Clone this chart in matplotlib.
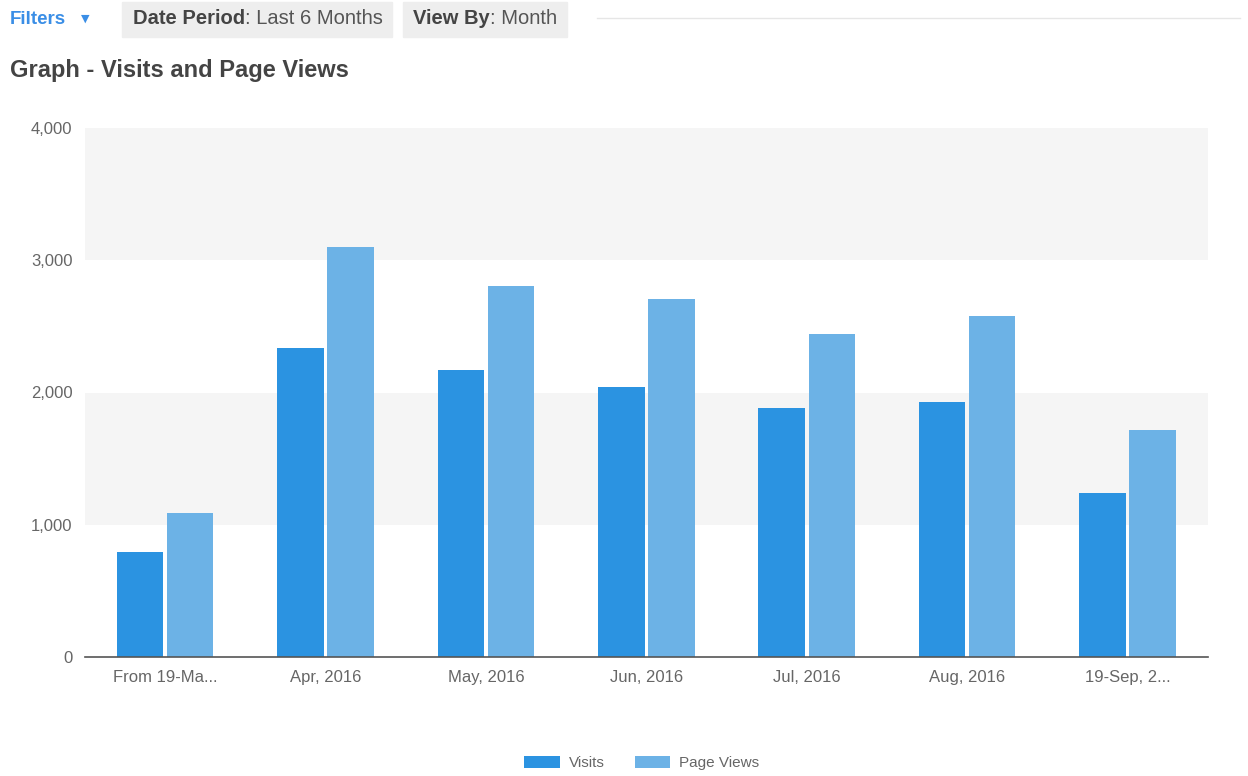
import numpy as np
from matplotlib import pyplot as plt
from matplotlib.patches import Rectangle

categories = ["From 19-Ma...", "Apr, 2016", "May, 2016", "Jun, 2016",
              "Jul, 2016", "Aug, 2016", "19-Sep, 2..."]
visits = [795, 2335, 2170, 2040, 1885, 1930, 1240]
page_views = [1090, 3100, 2805, 2705, 2440, 2580, 1715]
y_ticks = [0, 1000, 2000, 3000, 4000]

VISITS_C = "#2b93e1"
PV_C = "#6cb2e6"
TXT = "#666666"

plt.rcParams["font.family"] = ["Liberation Sans", "DejaVu Sans"]

W, H = 1248, 776
fig = plt.figure(figsize=(W / 100, H / 100), dpi=100)


def px(x, y):
    return x / W, 1 - y / H


# header row
fig.text(*px(10, 19), "Filters", color="#3a8ee6", fontsize=13.5,
         fontweight="bold", va="center")
fig.text(*px(81, 19), "\u25bc", color="#3a8ee6", fontsize=8,
         va="center", family="DejaVu Sans")
for x0, x1 in [(122, 392), (403, 567)]:
    fig.patches.append(Rectangle(px(x0, 37), (x1 - x0) / W, 35 / H,
                                 transform=fig.transFigure, color="#eeeeee",
                                 zorder=0))
fig.add_artist(plt.Line2D([597 / W, 1240 / W], [1 - 18 / H] * 2,
                          color="#e6e6e6", lw=1, transform=fig.transFigure))

fig.canvas.draw()
r = fig.canvas.get_renderer()
for x, bold, rest in [(133, "Date Period", ": Last 6 Months"),
                      (413, "View By", ": Month")]:
    t = fig.text(*px(x, 19), bold, color="#444444", fontsize=14.5,
                 fontweight="bold", va="center")
    bb = t.get_window_extent(r)
    fig.text(bb.x1 / W, 1 - 19 / H, rest, color="#555555", fontsize=14.5,
             va="center")

fig.text(*px(10, 70), "Graph - Visits and Page Views", color="#444444",
         fontsize=17, fontweight="bold", va="center")

ax = fig.add_axes([85 / W, 1 - 657 / H, (1208 - 85) / W, (657 - 128) / H])
x = np.arange(len(categories))
bw = 0.29
ax.bar(x - 0.157, visits, bw, color=VISITS_C, label="Visits", zorder=3)
ax.bar(x + 0.155, page_views, bw, color=PV_C, label="Page Views", zorder=3)

ax.axhspan(1000, 2000, color="#f5f5f5", zorder=0, lw=0)
ax.axhspan(3000, 4000, color="#f5f5f5", zorder=0, lw=0)

ax.set_xlim(-0.5, len(categories) - 0.5)
ax.set_ylim(0, 4000)
ax.set_yticks(y_ticks)
ax.set_yticklabels([f"{v:,}" for v in y_ticks])
ax.set_xticks(x)
ax.set_xticklabels(categories, va="baseline")
ax.tick_params(length=0, colors=TXT, labelsize=12)
ax.tick_params(axis="y", pad=9)
ax.tick_params(axis="x", pad=18)
for s in ["left", "right", "top"]:
    ax.spines[s].set_visible(False)
ax.spines["bottom"].set_color("#555555")
ax.spines["bottom"].set_linewidth(1.2)
ax.spines["bottom"].set_zorder(4)

leg = fig.legend(loc="center", bbox_to_anchor=(642 / W, 1 - 763 / H),
                 ncol=2, frameon=False, fontsize=11, handlelength=2.3,
                 handleheight=0.9, columnspacing=2.0, handletextpad=0.6)
for t in leg.get_texts():
    t.set_color(TXT)

fig.savefig("out.png", dpi=100)
